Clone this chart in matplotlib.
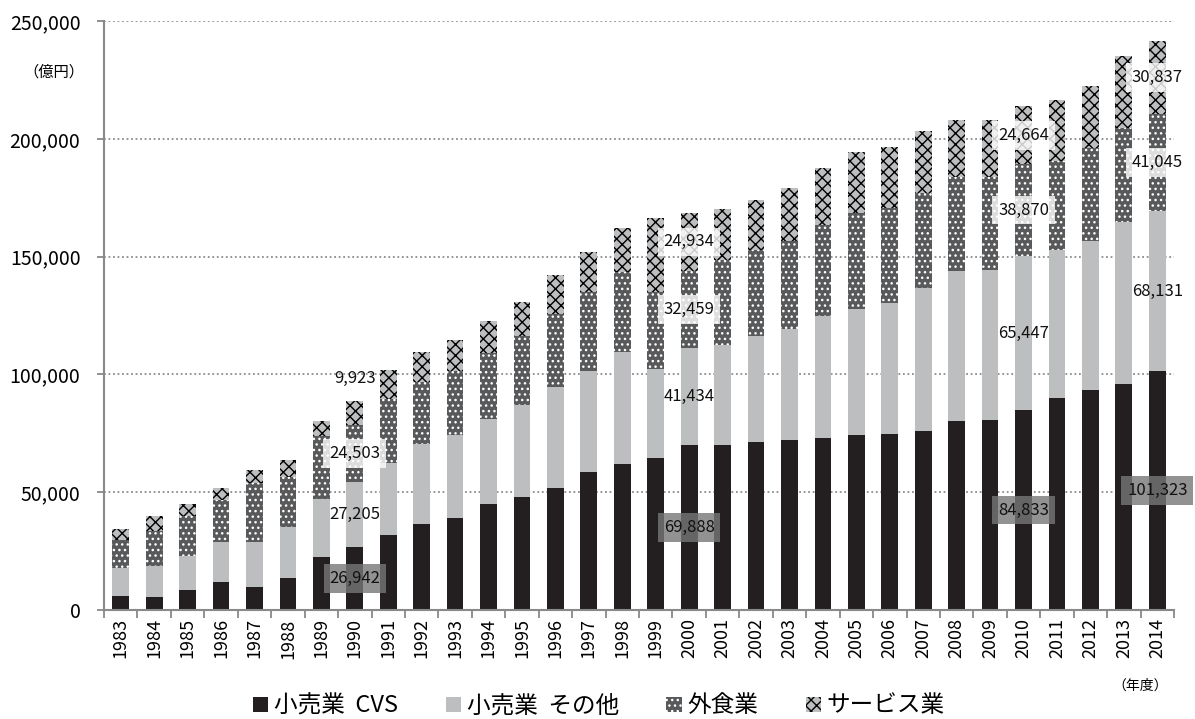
import numpy as np
import matplotlib
matplotlib.use("Agg")
import matplotlib.pyplot as plt
from matplotlib.patches import Patch
from matplotlib.ticker import MultipleLocator, FuncFormatter

plt.rcParams['font.family'] = ['Noto Sans CJK JP', 'DejaVu Sans']
plt.rcParams['hatch.linewidth'] = 1.0

years = [str(y) for y in range(1983, 2015)]

# 億円
cvs = [5900, 5500, 8400, 11900, 9800, 13600, 22500, 26942,
       31800, 36300, 38900, 44800, 48100, 51900, 58500, 61900,
       64500, 69888, 70100, 71500, 72000, 73200, 74400, 74700,
       75800, 80200, 80800, 84833, 90000, 93500, 95900, 101323]
retail_other = [12100, 13100, 14700, 16800, 19100, 21700, 24500, 27205,
                30800, 34100, 35500, 36300, 38800, 42600, 42900, 47700,
                37900, 41434, 42200, 45000, 47400, 51800, 53500, 55400,
                60700, 63900, 63600, 65447, 62800, 63300, 68700, 68131]
dining = [11600, 14900, 16700, 18000, 24900, 21300, 26700, 24503,
          27000, 26400, 27000, 28100, 29400, 31000, 33400, 33900,
          32600, 32459, 36200, 36200, 37300, 38300, 40500, 40500,
          40400, 39700, 39400, 38870, 37800, 39200, 39900, 41045]
service = [4700, 6400, 5100, 5000, 5700, 7100, 6400, 9923,
           12200, 12600, 13100, 13500, 14500, 16600, 17300, 18800,
           31300, 24934, 21700, 21300, 22300, 24200, 26000, 26000,
           26400, 24300, 24300, 24664, 25800, 26400, 30500, 30837]

series_names = ['小売業  CVS', '小売業  その他', '外食業', 'サービス業']
labeled_years = ['1990', '2000', '2010', '2014']

data = np.array([cvs, retail_other, dining, service], dtype=float)
styles = [
    dict(color='#231f20', edgecolor='#231f20', hatch=None),
    dict(color='#bcbec0', edgecolor='#bcbec0', hatch=None),
    dict(color='#58595b', edgecolor='white', hatch='...'),
    dict(color='#bcbec0', edgecolor='black', hatch='xxx'),
]

fig = plt.figure(figsize=(11.95, 7.19), dpi=100)
ax = fig.add_axes([104/1195, 1-610/719, 1070/1195, 589/719])

x = np.arange(len(years))
bottom = np.zeros(len(years))
for vals, st in zip(data, styles):
    ax.bar(x, vals, 0.5, bottom=bottom, color=st['color'],
           edgecolor=st['edgecolor'], hatch=st['hatch'], linewidth=0, zorder=2)
    bottom += vals

# value labels
box_dark = dict(boxstyle='square,pad=0.35', fc='#777777', ec='none', alpha=0.8)
box_light = dict(boxstyle='square,pad=0.35', fc='white', ec='none', alpha=0.8)
boxes = [box_dark, None, box_light, box_light]
for yr in labeled_years:
    i = years.index(yr)
    base = 0
    for k in range(4):
        v = data[k, i]
        ymid = base + v / 2
        box = boxes[k]
        if yr == '1990' and k == 3:
            ymid = base + v + 9500
            box = None
        ax.text(i, ymid, f"{int(v):,}", ha='center', va='center',
                fontsize=12, color='#111111', bbox=box, zorder=5)
        base += v

ax.set_xlim(-0.5, len(years) - 0.5)
ax.set_ylim(0, 250000)
ax.yaxis.set_major_locator(MultipleLocator(50000))
ax.yaxis.set_major_formatter(FuncFormatter(lambda v, p: f"{int(v):,}"))
ax.yaxis.grid(True, linestyle=(0, (1, 1.5)), color='#8c8c8c', linewidth=1.3, zorder=0)
ax.set_axisbelow(True)

ax.set_xticks(x)
ax.set_xticklabels(years, rotation=90, fontsize=13)
ax.set_xticks(np.arange(-0.5, len(years), 1), minor=True)
ax.tick_params(axis='x', which='major', length=0, pad=6)
ax.tick_params(axis='x', which='minor', length=6, color='#898989', width=1.3)
ax.tick_params(axis='y', length=5, color='#898989', width=1.3, labelsize=14, pad=12)

for s in ['top', 'right']:
    ax.spines[s].set_visible(False)
for s in ['left', 'bottom']:
    ax.spines[s].set_color('#898989')
    ax.spines[s].set_linewidth(1.5)

fig.text(54/1195, 1-72/719, '（億円）', ha='center', va='center', fontsize=11)
fig.text(1140/1195, 1-686/719, '（年度）', ha='center', va='center', fontsize=10)

handles = [Patch(facecolor=st['color'], edgecolor=st['edgecolor'], hatch=st['hatch'], linewidth=0)
           for st in styles]
fig.legend(handles, series_names, loc='center', bbox_to_anchor=(599/1195, 1-706/719),
           ncol=4, frameon=False, fontsize=17, handlelength=0.65, handleheight=0.6,
           handletextpad=0.25, columnspacing=2.0)

plt.savefig("out.png", dpi=100)
